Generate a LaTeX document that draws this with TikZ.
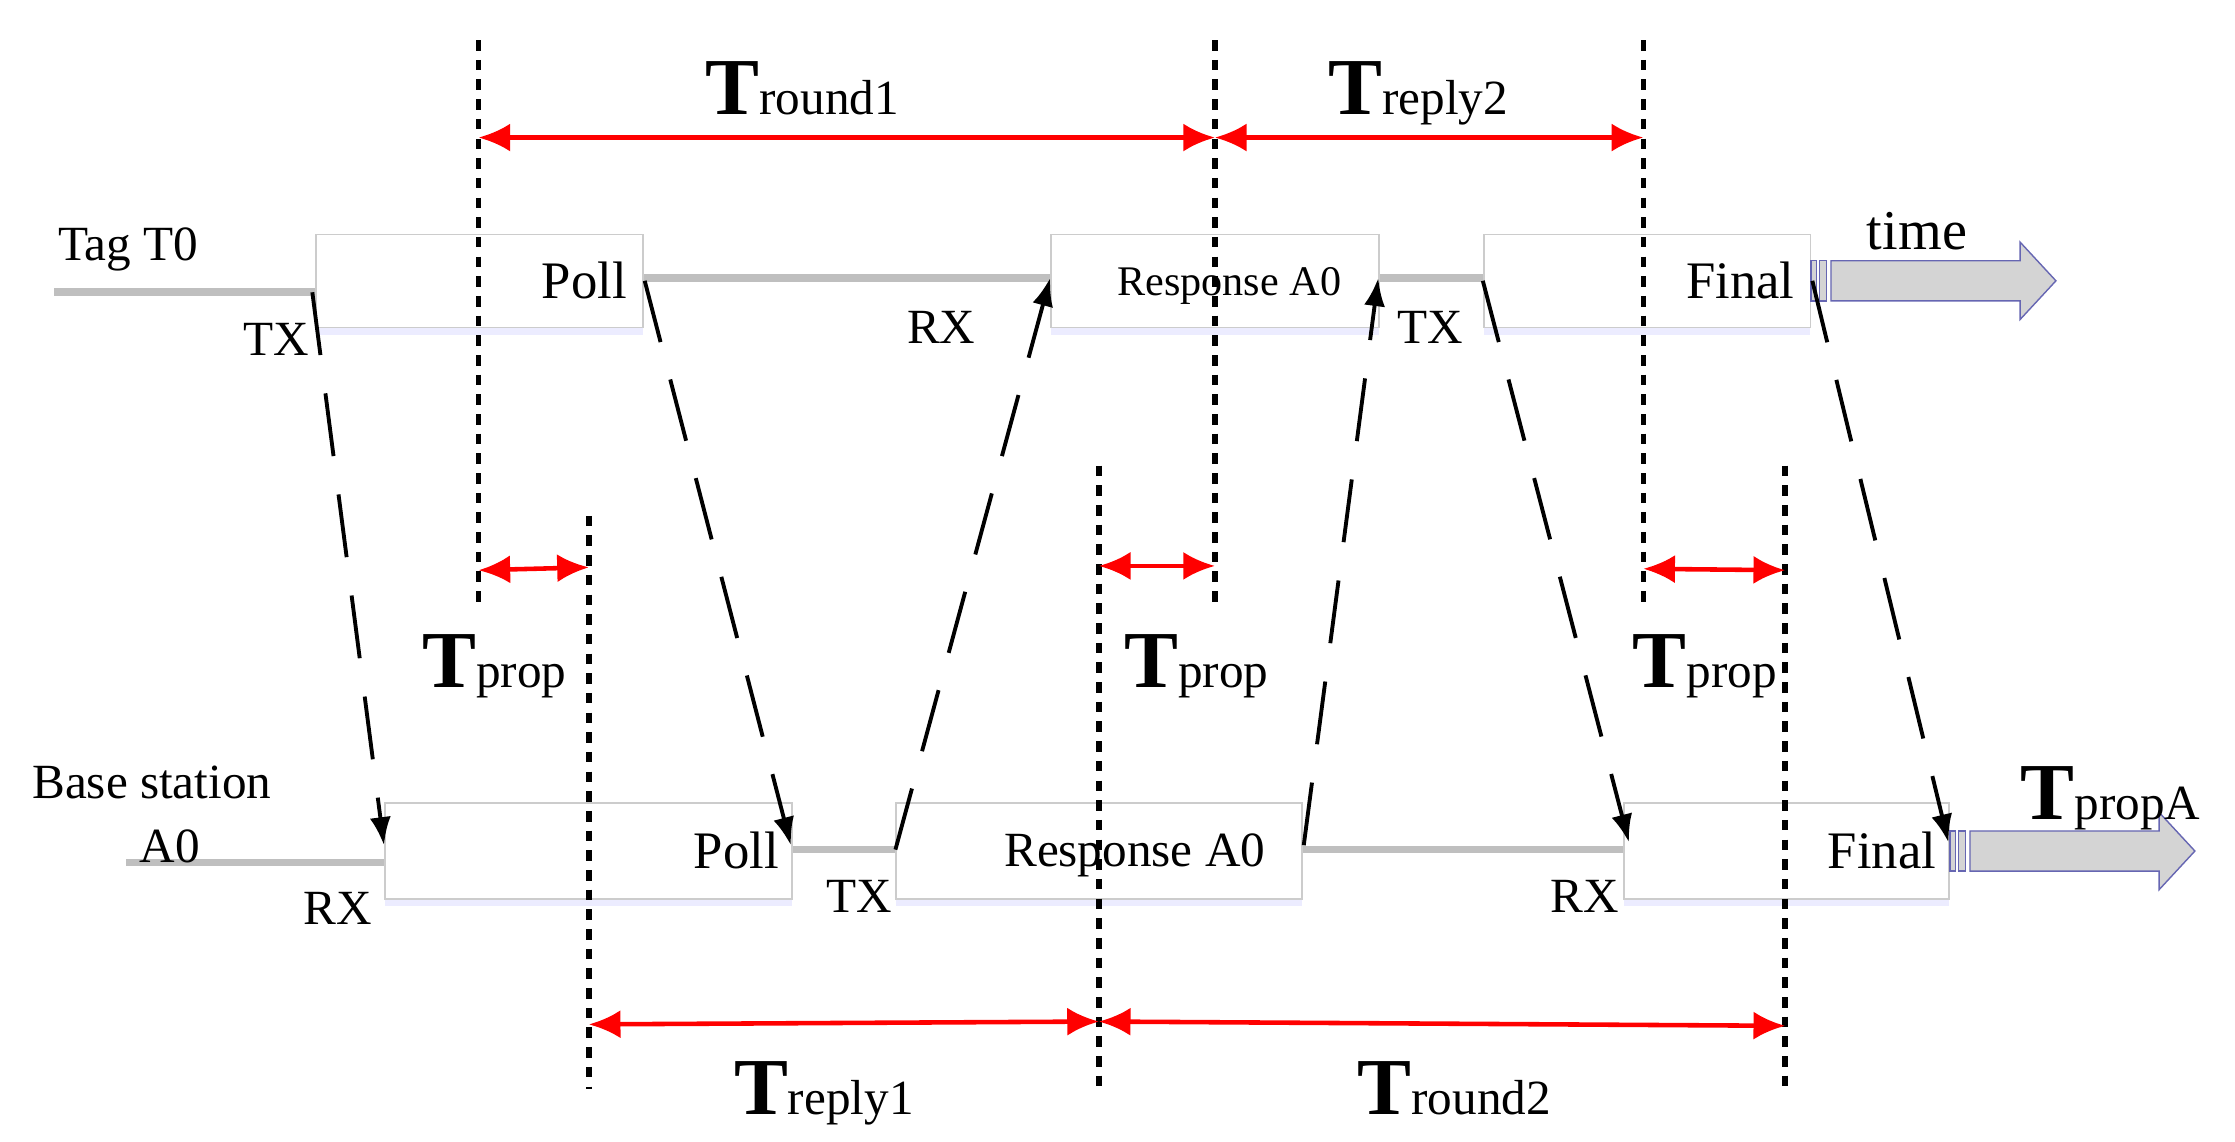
\documentclass[tikz,border=0pt]{standalone}
\usepackage{fontspec}
\setmainfont{Liberation Serif}
\usetikzlibrary{arrows.meta,shadows}
\begin{document}
\begin{tikzpicture}[x=0.014327cm,y=-0.014327cm,
  box/.style={draw=black!20,fill=white,line width=0.5pt,inner sep=0,anchor=north west,drop shadow={shadow xshift=0pt,shadow yshift=-2pt,fill=blue!15,opacity=0.5}},
  gline/.style={draw=black!25,line width=2.2pt},
  vdot/.style={line width=1.6pt,dash pattern=on 3pt off 2.6pt},
  red/.style={draw=red,line width=1.3pt,{Latex[length=9pt,width=8pt]}-{Latex[length=9pt,width=8pt]}},
  msg/.style={line width=1.1pt,dash pattern=on 18pt off 11pt,-{Latex[length=8pt,width=6pt]}},
  lab/.style={font=\fontsize{14}{16}\selectfont,inner sep=0},
  big/.style={inner sep=0,font=\fontsize{23}{26}\selectfont},
  tarrow/.style={draw=blue!50!black!60,fill=black!17,line width=0.4pt}]
\useasboundingbox (0,0) rectangle (1560,797);
% tag line
\draw[gline] (38,204) -- (220,204);
\draw[gline] (448,194) -- (733,194);
\draw[gline] (962,194) -- (1035,194);
\draw[gline] (88,602) -- (268,602);
\draw[gline] (552,593) -- (625,593);
\draw[gline] (908,593) -- (1133,593);
% boxes
\node[box,minimum width=228*0.014327cm,minimum height=65*0.014327cm] (tp) at (220,163) {};
\node[box,minimum width=229*0.014327cm,minimum height=65*0.014327cm] (tr) at (733,163) {};
\node[box,minimum width=228*0.014327cm,minimum height=65*0.014327cm] (tf) at (1035,163) {};
\node[box,minimum width=284*0.014327cm,minimum height=67*0.014327cm] (bp) at (268,560) {};
\node[box,minimum width=283*0.014327cm,minimum height=67*0.014327cm] (br) at (625,560) {};
\node[box,minimum width=227*0.014327cm,minimum height=67*0.014327cm] (bf) at (1133,560) {};
% time arrows
\draw[tarrow] (1264,182) rectangle (1268,210);
\draw[tarrow] (1270,182) rectangle (1275,210);
\path[tarrow] (1278,182) -- (1410,182) -- (1410,169) -- (1435,196) -- (1410,223) -- (1410,210) -- (1278,210) -- cycle;
\draw[tarrow] (1361,580) rectangle (1365,608);
\draw[tarrow] (1367,580) rectangle (1372,608);
\path[tarrow] (1375,580) -- (1507,580) -- (1507,567) -- (1532,594) -- (1507,621) -- (1507,608) -- (1375,608) -- cycle;
% texts
\node[lab,anchor=base west] (tag) at (40,182) {Tag T0};
\node[lab,anchor=base west] (bs) at (22,557) {Base station};
\node[lab,anchor=base west] (a0) at (97,602) {A0};
\node[lab,font=\fontsize{15}{17}\selectfont,anchor=base east] (tpl) at (438,208) {Poll};
\node[lab,font=\fontsize{12}{14}\selectfont,anchor=base] (trl) at (858,206) {Response A0};
\node[lab,font=\fontsize{15}{17}\selectfont,anchor=base east] (tfl) at (1253,208) {Final};
\node[lab,font=\fontsize{15}{17}\selectfont,anchor=base east] (bpl) at (544,606) {Poll};
\node[lab,font=\fontsize{14}{16}\selectfont,anchor=base] (brl) at (792,605) {Response A0};
\node[lab,font=\fontsize{15}{17}\selectfont,anchor=base east] (bfl) at (1352,606) {Final};
\node[lab,font=\fontsize{16}{18}\selectfont,anchor=base] (time) at (1338,174) {time};
\node[lab,anchor=base] (tx1) at (193,248) {TX};
\node[lab,anchor=base] (rx1) at (657,240) {RX};
\node[lab,anchor=base] (tx2) at (998,240) {TX};
\node[lab,anchor=base] (rx2) at (236,645) {RX};
\node[lab,anchor=base] (tx3) at (600,637) {TX};
\node[lab,anchor=base] (rx3) at (1106,637) {RX};
% vertical dotted
\draw[vdot] (334,28) coordinate (v1t) -- (334,425) coordinate (v1b);
\draw[vdot] (411,360) coordinate (v2t) -- (411,760) coordinate (v2b);
\draw[vdot] (767,325) coordinate (v3t) -- (767,760) coordinate (v3b);
\draw[vdot] (848,28) coordinate (v4t) -- (848,425) coordinate (v4b);
\draw[vdot] (1147,28) coordinate (v5t) -- (1147,425) coordinate (v5b);
\draw[vdot] (1246,325) coordinate (v6t) -- (1246,760) coordinate (v6b);
% red arrows
\coordinate (r1a) at (334,96); \coordinate (r1b) at (848,96); \coordinate (r2b) at (1147,96);
\draw[red] (r1a) -- (r1b);
\draw[red] (r1b) -- (r2b);
\coordinate (p1a) at (334,398); \coordinate (p1b) at (411,396);
\coordinate (p2a) at (767,395); \coordinate (p2b) at (848,395);
\coordinate (p3a) at (1147,397); \coordinate (p3b) at (1246,398);
\draw[red] (p1a) -- (p1b);
\draw[red] (p2a) -- (p2b);
\draw[red] (p3a) -- (p3b);
\coordinate (q1a) at (411,715); \coordinate (q1b) at (767,713); \coordinate (q2b) at (1246,716);
\draw[red] (q1a) -- (q1b);
\draw[red] (q1b) -- (q2b);
% big labels
\newcommand\bigT[1]{\textbf{T}{\fontsize{14}{16}\selectfont #1}}
\node[big,anchor=base] (L1) at (560,80) {\bigT{round1}};
\node[big,anchor=base] (L2) at (990,80) {\bigT{reply2}};
\node[big,anchor=base] (L3) at (345,480) {\bigT{prop}};
\node[big,anchor=base] (L4) at (835,480) {\bigT{prop}};
\node[big,anchor=base] (L5) at (1190,480) {\bigT{prop}};
\node[big,anchor=base] (L6) at (1473,572) {\bigT{propA}};
\node[big,anchor=base] (L7) at (575,778) {\bigT{reply1}};
\node[big,anchor=base] (L8) at (1015,778) {\bigT{round2}};
% messages
\coordinate (m1a) at (218,204); \coordinate (m1b) at (268,590);
\coordinate (m2a) at (450,196); \coordinate (m2b) at (552,590);
\coordinate (m3a) at (625,593); \coordinate (m3b) at (733,194);
\coordinate (m4a) at (910,590); \coordinate (m4b) at (962,194);
\coordinate (m5a) at (1035,196); \coordinate (m5b) at (1137,588);
\coordinate (m6a) at (1265,196); \coordinate (m6b) at (1360,588);
\draw[msg] (m1a) -- (m1b);
\draw[msg] (m2a) -- (m2b);
\draw[msg] (m3a) -- (m3b);
\draw[msg] (m4a) -- (m4b);
\draw[msg] (m5a) -- (m5b);
\draw[msg] (m6a) -- (m6b);
\end{tikzpicture}
\end{document}
